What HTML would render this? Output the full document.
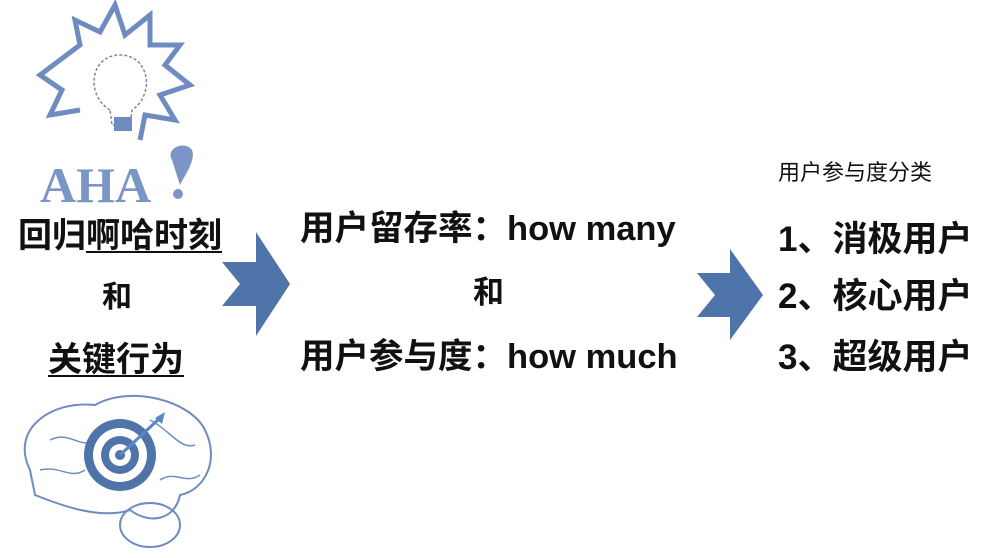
<!DOCTYPE html><html><head><meta charset="utf-8"><style>
body{margin:0;width:982px;height:558px;background:#fff;position:relative;overflow:hidden;font-family:"Liberation Sans","Noto Sans CJK SC",sans-serif;font-weight:bold;color:#111}
.t{position:absolute;white-space:nowrap;line-height:1}
u{text-decoration:underline;text-underline-offset:4px;text-decoration-thickness:2px}
</style></head><body>
<svg width="982" height="558" style="position:absolute;left:0;top:0">
<g fill="none" stroke="#6f8cc0" stroke-width="5">
<path d="M60 60 L80 45 L75 20 L100 32 L115 5 L125 35 L150 15 L150 45 L180 45 L165 65 L190 85 L160 95 L175 120 L145 115 L140 140"/>
<path d="M60 60 L40 75 L62 90 L50 115 L80 110"/>
</g>
<path d="M110 110 C85 95 90 55 120 55 C150 55 155 95 132 110 L130 125 L112 125 Z" fill="none" stroke="#888" stroke-width="1.5" stroke-dasharray="3 2"/>
<rect x="114" y="117" width="18" height="14" fill="#6f8cc0"/>
<text x="40" y="202" font-family="Liberation Serif,serif" font-size="50" font-weight="bold" fill="#7b95c6">AHA</text>
<path d="M172 160 C165 148 185 140 192 150 C196 160 185 175 180 185 Z" fill="#7b95c6"/><circle cx="178" cy="194" r="5" fill="#7b95c6"/>
<path d="M30 470 C10 430 50 400 95 405 C130 385 190 400 205 430 C220 460 205 490 180 495 C175 520 150 525 130 510 C100 520 60 505 35 495 Z" fill="none" stroke="#6f8cc0" stroke-width="2"/>
<path d="M50 440 C70 430 80 450 95 440 M150 420 C170 430 180 450 195 445 M40 470 C60 465 70 480 85 470 M160 480 C175 470 185 485 200 475" fill="none" stroke="#6f8cc0" stroke-width="1.5"/>
<ellipse cx="150" cy="525" rx="30" ry="22" fill="none" stroke="#6f8cc0" stroke-width="2"/>
<circle cx="120" cy="455" r="36" fill="#4e74aa"/><circle cx="120" cy="455" r="27" fill="#fff"/><circle cx="120" cy="455" r="19" fill="#4e74aa"/><circle cx="120" cy="455" r="11" fill="#fff"/><circle cx="120" cy="455" r="5" fill="#4e74aa"/>
<path d="M120 455 L160 418" stroke="#5a86c5" stroke-width="3"/><path d="M155 418 L165 412 L162 424 Z" fill="#5a86c5"/>
<path d="M222 262 L256 262 L256 232 L290 284 L256 336 L256 306 L222 306 L240 284 Z" fill="#4e74aa"/>
<path d="M697 273 L730 273 L730 249 L763 295 L730 340 L730 317 L697 317 L715 295 Z" fill="#4e74aa"/>
</svg>
<div class="t" style="left:18px;top:219px;font-size:34px">回归<u>啊哈时刻</u></div>
<div class="t" style="left:102px;top:283px;font-size:30px">和</div>
<div class="t" style="left:48px;top:343px;font-size:34px"><u>关键行为</u></div>
<div class="t" style="left:300px;top:212px;font-size:34.5px">用户留存率：how many</div>
<div class="t" style="left:473px;top:277px;font-size:31px">和</div>
<div class="t" style="left:300px;top:340px;font-size:34.5px">用户参与度：how much</div>
<div class="t" style="left:778px;top:162px;font-size:22px;font-weight:normal">用户参与度分类</div>
<div class="t" style="left:778px;top:222px;font-size:35px">1、消极用户</div>
<div class="t" style="left:778px;top:279px;font-size:35px">2、核心用户</div>
<div class="t" style="left:778px;top:340px;font-size:35px">3、超级用户</div>
</body></html>
